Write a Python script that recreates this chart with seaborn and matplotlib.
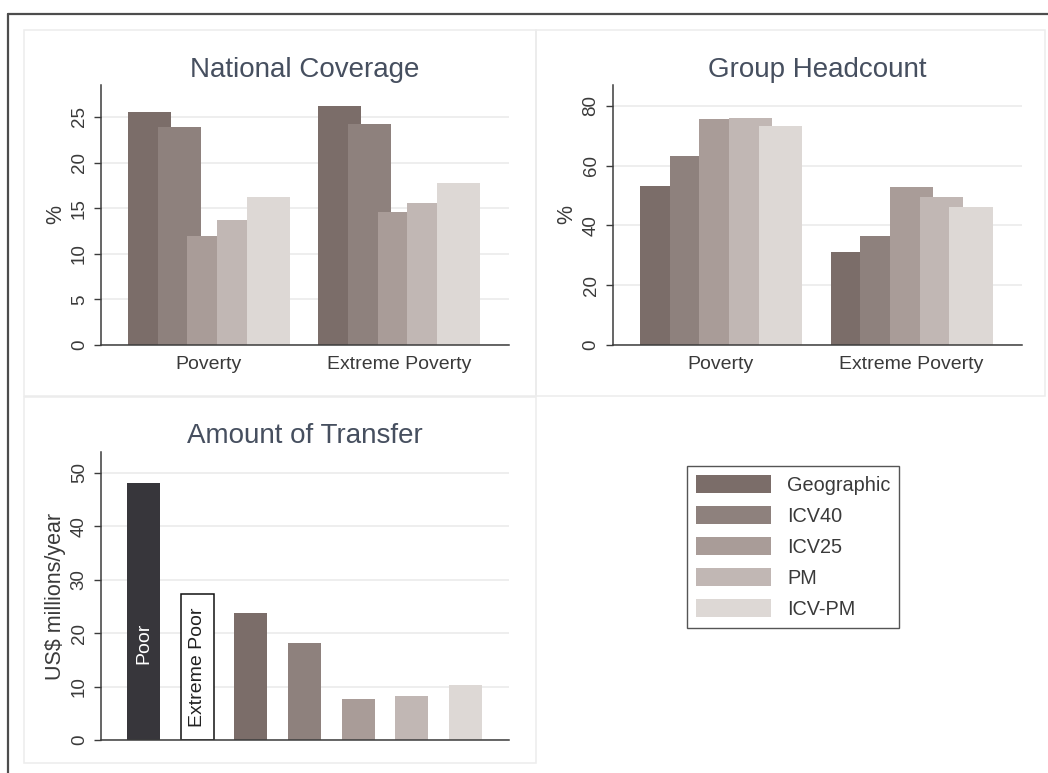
import numpy as np
import matplotlib
matplotlib.use("Agg")
import matplotlib.pyplot as plt
from matplotlib.patches import Patch, Rectangle
from matplotlib.lines import Line2D
import seaborn as sns

# ---- data ----
groups = ["Poverty", "Extreme Poverty"]
methods = ["Geographic", "ICV40", "ICV25", "PM", "ICV-PM"]
method_colors = ["#7b6d69", "#8e817d", "#a99c98", "#c1b7b4", "#ddd8d5"]

coverage_geographic = [25.5, 26.2]
coverage_icv40 = [23.9, 24.2]
coverage_icv25 = [11.95, 14.6]
coverage_pm = [13.7, 15.6]
coverage_icvpm = [16.2, 17.8]

headcount_geographic = [53.2, 31.1]
headcount_icv40 = [63.2, 36.5]
headcount_icv25 = [75.7, 52.9]
headcount_pm = [75.9, 49.5]
headcount_icvpm = [73.3, 46.2]

transfer_labels = ["Poor", "Extreme Poor", "Geographic", "ICV40", "ICV25", "PM", "ICV-PM"]
transfer_values = [48.1, 27.3, 23.7, 18.1, 7.6, 8.2, 10.2]
transfer_colors = ["#37363b", "#ffffff"] + method_colors

coverage = [coverage_geographic, coverage_icv40, coverage_icv25, coverage_pm, coverage_icvpm]
headcount = [headcount_geographic, headcount_icv40, headcount_icv25, headcount_pm, headcount_icvpm]

# ---- style ----
sns.set_theme(style="white")
plt.rcParams["font.family"] = ["Liberation Sans", "DejaVu Sans"]
TEXT = "#3a3a3a"
TITLE = "#464f5f"
SPINE = "#3c3c3c"
GRID = "#ebebeb"

W, H = 1048, 773
fig = plt.figure(figsize=(W / 100, H / 100), dpi=100)
fig.patch.set_facecolor("white")


def fx(x):
    return x / W


def fy(y):
    return 1 - y / H


def axes_at(left, top, right, bottom):
    return fig.add_axes([fx(left), fy(bottom), (right - left) / W, (bottom - top) / H])


def style_axes(ax, ylim, yticks, ylabel, title, title_pad):
    ax.set_facecolor("white")
    ax.set_ylim(*ylim)
    ax.set_yticks(yticks)
    ax.set_yticklabels([str(t) for t in yticks])
    ax.tick_params(axis="y", labelrotation=90, length=5, width=1, color=SPINE,
                   labelsize=13.5, labelcolor=TEXT, pad=4.5, direction="out", left=True)
    ax.tick_params(axis="x", length=0, labelsize=14, labelcolor=TEXT, pad=8)
    for lab in ax.get_yticklabels():
        lab.set_va("center")
    for s in ["top", "right"]:
        ax.spines[s].set_visible(False)
    for s in ["left", "bottom"]:
        ax.spines[s].set_color(SPINE)
        ax.spines[s].set_linewidth(1.1)
    ax.yaxis.grid(True, color=GRID, linewidth=1.2)
    ax.xaxis.grid(False)
    ax.set_axisbelow(True)
    ax.set_xlabel("")
    ax.set_ylabel(ylabel, fontsize=15.5, color=TEXT)
    ax.yaxis.set_label_coords(-0.086, 0.5)
    ax.set_title(title, fontsize=20, color=TITLE, pad=title_pad)


# ---- panel frames ----
for (l, t, r, b) in [(24, 30, 536, 396), (536, 30, 1045, 396), (24, 397, 536, 763)]:
    fig.add_artist(Rectangle((fx(l), fy(b)), (r - l) / W, (b - t) / H,
                             transform=fig.transFigure, fill=False,
                             edgecolor="#ececec", linewidth=1.1))
fig.add_artist(Line2D([fx(8), 1.0], [fy(13.5), fy(13.5)], transform=fig.transFigure,
                      color="#4d4d4d", linewidth=1.6))
fig.add_artist(Line2D([fx(8), fx(8)], [fy(13.5), 0.0], transform=fig.transFigure,
                      color="#4d4d4d", linewidth=1.6))

# ---- grouped (overlapping) bar panels ----
BAR_W = 0.2263
STEP = 0.156
group_pos = np.arange(len(groups))


def grouped_panel(ax, series):
    for i, (vals, col) in enumerate(zip(series, method_colors)):
        sns.barplot(x=group_pos + (i - 2) * STEP, y=vals, native_scale=True,
                    orient="x", width=BAR_W, color=col, saturation=1,
                    errorbar=None, linewidth=0, ax=ax)
    ax.set_xlim(-0.568, 1.578)
    ax.set_xticks(group_pos)
    ax.set_xticklabels(groups)


ax1 = axes_at(101, 85, 509, 345)
grouped_panel(ax1, coverage)
style_axes(ax1, (0, 28.5), [0, 5, 10, 15, 20, 25], "%", "National Coverage", 6)

ax2 = axes_at(612.7, 85, 1021.7, 345)
grouped_panel(ax2, headcount)
style_axes(ax2, (0, 87), [0, 20, 40, 60, 80], "%", "Group Headcount", 6)

# ---- transfer panel ----
ax3 = axes_at(101, 452.3, 509, 740)
sns.barplot(x=transfer_labels, y=transfer_values, hue=transfer_labels,
            palette=dict(zip(transfer_labels, transfer_colors)), saturation=1,
            width=0.616, errorbar=None, legend=False, linewidth=0, ax=ax3)
for cont, lab in zip(ax3.containers, transfer_labels):
    if lab == "Extreme Poor":
        for bar in cont:
            bar.set_edgecolor("#111111")
            bar.set_linewidth(1.1)
ax3.set_xlim(-0.79, 6.81)
style_axes(ax3, (0, 53.8), [0, 10, 20, 30, 40, 50], "US$ millions/year", "Amount of Transfer", 7)
ax3.set_xticks([])
ax3.text(0, 18.1, "Poor", rotation=90, ha="center", va="center", fontsize=14, color="white")
ax3.text(1, 13.55, "Extreme Poor", rotation=90, ha="center", va="center", fontsize=14, color="#222222")

# ---- legend ----
handles = [Patch(facecolor=c, edgecolor="none", label=m) for m, c in zip(methods, method_colors)]
leg = fig.legend(handles=handles, loc="upper left", bbox_to_anchor=(fx(686.7), fy(466)),
                 bbox_transform=fig.transFigure, borderaxespad=0, fontsize=14.3,
                 handlelength=3.8, handleheight=1.03, handletextpad=0.8,
                 labelspacing=0.56, borderpad=0.45, fancybox=False, framealpha=1)
leg.get_frame().set_edgecolor("#555555")
leg.get_frame().set_linewidth(1.0)
for t in leg.get_texts():
    t.set_color(TEXT)

fig.savefig("out.png", dpi=100, facecolor="white")
